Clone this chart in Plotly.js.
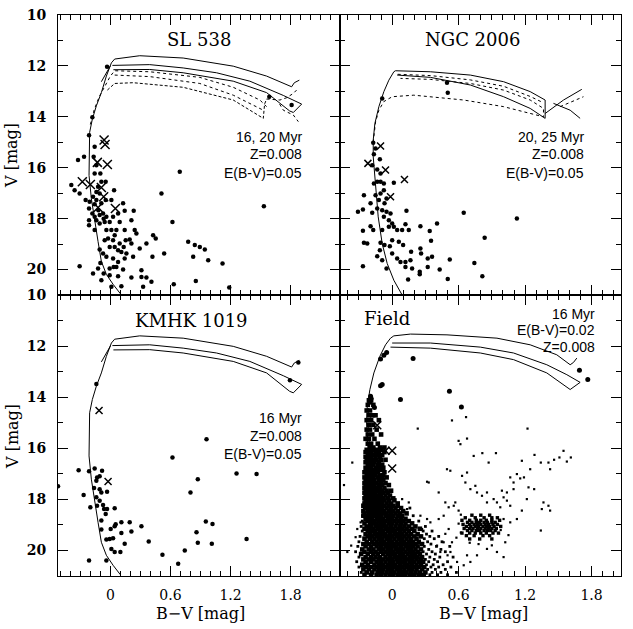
<!DOCTYPE html>
<html><head><meta charset="utf-8">
<script src="https://cdn.plot.ly/plotly-3.0.1.min.js"></script>
<style>html,body{margin:0;padding:0;background:#fff}#chart{width:633px;height:629px}</style>
</head><body><div id="chart"></div>
<script>
// ---------- isochrones ----------
// 16 Myr, Z=0.008, E(B-V)=0.05 (SL 538 & KMHK 1019, solid)
const iso16X = [0.1,0.027,-0.04,-0.09,-0.123,-0.157,-0.19,-0.213,-0.213,-0.207,-0.18,-0.14,-0.09,-0.04,0.01,0.043,0.293,0.727,1.227,1.56,1.81,1.837,1.887,null,
  0.02,0.393,0.727,1.06,1.393,1.727,1.91,1.827,1.79,1.56,1.227,0.727,0.393,0.03,null,
  -0.09,0.0];
const iso16Y = [20.95,20.58,20.19,19.68,18.9,18.12,17.21,16.3,15.26,14.61,14.09,13.57,13.05,12.4,11.88,11.73,11.6,11.69,12.01,12.4,12.82,12.66,12.56,null,
  11.98,11.95,12.08,12.27,12.6,13.16,13.5,13.83,13.77,13.05,12.6,12.27,12.14,12.15,null,
  12.62,12.0];
// 20 Myr (SL 538, dotted / dashed)
const iso20dotX = [-0.2,-0.16,-0.11,-0.05,0.0,0.043,0.393,0.893,1.227,1.493,1.56,null,
  0.043,0.393,0.893,1.227,1.527,null,
  1.56,1.693,1.76,1.827,1.877,null,
  1.69,1.727,1.827,1.877];
const iso20dotY = [14.3,13.7,13.2,12.75,12.4,12.19,12.23,12.45,12.84,13.34,13.6,null,
  12.36,12.42,12.69,13.15,13.74,null,
  13.3,13.34,13.25,13.08,12.88,null,
  13.5,13.74,13.93,14.19];
const iso20dashX = [-0.03,0.043,0.227,0.727,1.227,1.527,1.54,1.56];
const iso20dashY = [12.95,12.69,12.66,12.84,13.34,14.06,13.5,13.3];
// NGC 2006: 20 Myr solid, 25 Myr dotted
const ngcSolidX = [0.09,0.015,-0.045,-0.09,-0.126,-0.15,-0.171,-0.171,-0.156,-0.12,-0.075,-0.03,0.015,0.03,0.345,0.706,1.006,1.246,1.381,1.381,1.246,1.006,0.706,0.345,0.045,null,
  1.381,1.547,1.712,null,1.456,1.607,1.697];
const ngcSolidY = [21.0,20.42,19.76,18.98,17.93,16.75,15.57,14.91,14.26,13.6,13.01,12.56,12.23,12.19,12.23,12.36,12.62,13.01,13.34,14.06,13.67,13.21,12.75,12.45,12.36,null,
  13.87,13.34,12.92,null,13.47,13.74,14.06];
const ngcDotX = [-0.171,-0.15,-0.12,-0.075,0.0,0.195,0.646,1.006,1.366,1.366,1.246,1.006,0.706,0.345,0.075,null,
  0.05,0.345,0.706,1.006,1.246,1.366,null,1.517,1.727];
const ngcDotY = [15.0,14.2,13.74,13.4,13.21,13.15,13.34,13.6,14.0,13.67,13.34,12.95,12.69,12.53,12.49,null,
  12.33,12.38,12.55,12.8,13.2,13.45,null,13.6,13.21];
// Field: 16 Myr, E(B-V)=0.02
const isoFieldX = [0.09,0.015,-0.045,-0.105,-0.15,-0.189,-0.219,-0.231,-0.225,-0.201,-0.165,-0.111,-0.06,-0.015,0.015,0.165,0.495,0.946,1.246,1.486,1.607,1.637,1.667,null,
  0.0,0.345,0.796,1.096,1.396,1.577,1.697,1.607,1.396,1.096,0.796,0.345,-0.015];
const isoFieldY = [20.95,20.58,20.06,19.29,18.25,17.08,15.91,15.0,14.35,13.7,13.05,12.4,11.95,11.69,11.6,11.53,11.56,11.69,11.95,12.34,12.73,12.64,12.47,null,
  11.88,11.88,12.04,12.27,12.73,13.12,13.42,13.7,13.05,12.53,12.27,12.08,12.04];

// ---------- stars: [B-V, V] ----------
const sl538Dots = [[-0.033,12.03],[-0.18,14.02],[-0.213,14.72],[-0.157,15.18],[-0.167,15.57],[-0.14,15.9],[-0.157,16.23],[-0.1,16.23],[-0.323,15.7],[-0.263,15.57],[-0.39,16.68],[-0.357,16.88],[-0.307,17.01],[-0.247,17.27],[-0.207,17.34],[-0.173,17.14],[-0.14,16.95],[-0.09,16.55],[-0.047,16.55],[0.037,16.88],[-0.213,17.6],[-0.18,17.8],[-0.213,18.06],[-0.213,18.26],[-0.157,17.93],[-0.107,17.86],[-0.073,17.8],[-0.04,17.93],[0.01,17.27],[0.027,17.93],[0.077,17.8],[0.127,17.4],[0.143,17.69],[0.233,17.69],[-0.157,18.45],[-0.107,18.19],[-0.057,18.13],[-0.007,18.13],[0.01,18.45],[0.06,18.45],[0.093,18.13],[0.043,18.65],[-0.04,18.45],[-0.057,18.85],[-0.107,19.21],[-0.007,19.11],[0.043,19.11],[0.093,18.98],[0.11,19.31],[0.193,18.82],[0.21,18.06],[0.243,18.45],[0.26,18.58],[0.21,18.98],[0.16,19.37],[0.227,19.5],[0.293,19.17],[0.36,18.98],[0.143,19.57],[0.077,19.7],[0.027,19.57],[-0.04,19.5],[-0.1,19.74],[-0.007,19.96],[0.06,19.9],[0.127,20.0],[-0.067,20.16],[-0.173,20.16],[-0.007,20.22],[0.077,20.26],[0.21,20.31],[0.31,20.03],[0.31,20.29],[0.36,20.31],[0.41,20.48],[0.327,20.68],[0.11,20.66],[0.01,20.68],[-0.307,19.87],[0.427,18.65],[0.453,18.78],[0.42,19.5],[0.537,19.37],[0.51,17.01],[0.62,18.13],[0.693,16.16],[0.633,20.58],[0.777,18.91],[0.843,19.04],[0.893,19.11],[0.943,19.21],[0.827,19.5],[0.977,19.63],[1.12,19.76],[0.853,20.45],[1.187,20.71],[1.533,17.51],[1.587,13.21],[1.81,13.54],[-0.123,16.75],[-0.107,17.01],[-0.14,17.27],[-0.09,17.4],[-0.047,17.27],[-0.157,17.43],[-0.12,17.67],[-0.067,18.0],[-0.14,18.06],[-0.023,18.78],[0.027,18.85],[0.077,19.24],[-0.073,19.37],[0.143,18.45],[0.153,18.85],[0.133,19.11],[0.033,19.9],[-0.123,19.96],[-0.09,20.42]];
const sl538Cross = [[-0.063,14.91],[-0.053,15.09],[-0.13,15.79],[-0.03,15.87],[-0.28,16.55],[-0.2,16.66],[-0.09,16.78],[-0.067,17.14],[-0.123,17.56],[0.05,17.6]];

const ngcDots = [[-0.09,13.28],[0.495,12.66],[0.502,13.05],[-0.171,15.02],[-0.15,15.24],[-0.165,15.47],[-0.111,15.67],[-0.18,15.9],[-0.135,16.07],[-0.105,16.23],[-0.165,16.62],[-0.135,16.55],[-0.105,16.55],[-0.075,16.62],[0.015,16.59],[-0.255,17.08],[-0.15,17.08],[-0.105,17.01],[-0.075,16.88],[-0.051,17.21],[-0.12,17.27],[-0.069,17.4],[-0.309,17.73],[-0.264,17.64],[-0.195,17.4],[-0.18,17.77],[-0.135,17.6],[-0.09,17.67],[-0.051,17.73],[-0.015,17.8],[0.129,17.69],[-0.075,17.93],[-0.03,18.06],[0.0,18.19],[-0.264,18.48],[-0.195,18.3],[-0.171,18.45],[-0.09,18.45],[-0.03,18.32],[0.015,18.32],[0.045,18.45],[0.09,18.45],[0.12,18.22],[0.15,18.45],[0.255,18.3],[0.339,18.49],[0.405,18.19],[0.646,17.77],[1.126,17.99],[-0.255,18.95],[-0.225,18.98],[-0.105,18.95],[-0.069,19.04],[-0.021,19.08],[0.0,18.85],[0.06,18.91],[0.099,19.04],[0.351,18.87],[0.835,18.75],[-0.111,19.24],[0.255,19.17],[-0.135,19.48],[-0.09,19.63],[0.0,19.37],[0.045,19.57],[0.075,19.7],[0.12,19.7],[0.165,19.63],[0.171,19.3],[0.261,19.37],[0.321,19.57],[0.36,19.5],[0.52,19.61],[0.742,19.74],[-0.264,19.87],[-0.051,19.96],[0.12,19.9],[0.18,19.96],[0.249,20.09],[0.321,19.9],[0.429,20.0],[0.144,20.39],[0.249,20.18],[0.502,20.37],[0.814,20.26]];
const ngcCross = [[-0.105,15.15],[-0.219,15.83],[-0.06,16.09],[0.111,16.46],[-0.015,17.14]];

const kmhkDots = [[-0.14,13.48],[-0.523,17.49],[-0.317,16.86],[-0.213,16.9],[-0.157,16.79],[-0.133,17.14],[-0.107,17.1],[-0.083,16.88],[-0.14,17.27],[-0.163,17.56],[-0.107,17.6],[-0.09,17.73],[-0.033,17.7],[-0.267,17.83],[-0.14,17.92],[-0.107,18.05],[-0.073,18.22],[-0.2,18.31],[-0.133,18.25],[-0.063,18.38],[-0.033,18.38],[0.043,18.35],[-0.047,18.57],[-0.09,18.83],[-0.09,19.18],[-0.04,19.57],[-0.007,19.55],[0.027,19.52],[0.003,19.16],[0.043,19.05],[0.053,18.97],[0.11,18.9],[0.11,19.32],[0.193,18.9],[0.21,19.26],[0.143,19.74],[0.31,19.05],[0.383,19.65],[0.01,19.94],[0.043,20.06],[0.1,20.06],[-0.213,20.39],[-0.04,20.39],[0.52,20.17],[0.677,20.52],[0.743,20.0],[0.62,16.36],[0.8,17.73],[0.873,17.21],[0.96,15.65],[0.86,19.29],[0.873,19.7],[0.953,18.87],[1.02,18.96],[1.013,19.74],[1.26,16.99],[1.36,19.55],[1.46,17.01],[1.793,13.34],[1.877,12.64]];
const kmhkCross = [[-0.113,14.52],[-0.023,17.3]];

// Field: dense sequences, rows of V with the B-V of the stars read along each row
const fieldRowV = [14.12,14.3,14.52,14.71,14.9,15.08,15.27,15.46,15.63,15.82,15.97,16.06,16.15,16.26,16.34,16.45,16.55,16.64,16.76,16.85,16.94,17.06,17.14,17.25,17.36,17.44,17.55,17.66,17.74,17.85,17.96,18.04,18.16,18.25,18.34,18.46,18.55,18.64,18.76,18.85,18.94,19.06,19.15,19.24,19.36,19.45,19.54,19.66,19.75,19.84,19.96,20.05,20.14,20.26,20.35,20.44,20.56,20.65,20.74,20.86,20.95];
const fieldRowBV = [
 [-0.21,-0.19],[-0.22,-0.17],[-0.2,-0.23],[-0.18,-0.21,-0.15],[-0.23,-0.19,-0.12],[-0.21,-0.17],[-0.23,-0.2,-0.14],[-0.22,-0.18,-0.1],[-0.21,-0.24,-0.16],[-0.19,-0.13,-0.22],[-0.2,-0.17,-0.07,-0.11],
 [-0.23,-0.2,-0.17,-0.14,-0.1],[-0.24,-0.21,-0.19,-0.15,-0.12,-0.07],[-0.22,-0.18,-0.16,-0.13,-0.09],[-0.24,-0.21,-0.19,-0.15,-0.11],[-0.23,-0.2,-0.17,-0.14,-0.1,-0.06],[-0.24,-0.21,-0.18,-0.16,-0.12],[-0.22,-0.2,-0.17,-0.13,-0.09],[-0.24,-0.21,-0.19,-0.15,-0.12,-0.08],[-0.23,-0.2,-0.17,-0.14,-0.1],[-0.25,-0.22,-0.19,-0.16,-0.13,-0.07],[-0.23,-0.21,-0.18,-0.15,-0.11,-0.08],[-0.25,-0.22,-0.2,-0.17,-0.13,-0.09,-0.05],[-0.24,-0.21,-0.18,-0.16,-0.12,-0.08],[-0.25,-0.23,-0.2,-0.17,-0.14,-0.1,-0.06],[-0.24,-0.21,-0.19,-0.16,-0.12,-0.09,-0.03],[-0.25,-0.22,-0.2,-0.17,-0.14,-0.11,-0.07],[-0.24,-0.21,-0.18,-0.16,-0.13,-0.09,-0.05,-0.01],[-0.25,-0.23,-0.2,-0.17,-0.15,-0.11,-0.08,-0.04],[-0.24,-0.21,-0.19,-0.16,-0.13,-0.1,-0.06,-0.02],[-0.25,-0.22,-0.2,-0.17,-0.14,-0.12,-0.08,-0.04,0.01],[-0.24,-0.21,-0.18,-0.16,-0.13,-0.1,-0.07,-0.03,0.02],[-0.25,-0.23,-0.2,-0.17,-0.15,-0.12,-0.09,-0.05,-0.01,0.05],
 [-0.26,-0.22,-0.19,-0.16,-0.13,-0.1,-0.07,-0.03,0.01,0.05],[-0.24,-0.21,-0.18,-0.15,-0.12,-0.09,-0.05,-0.01,0.03,0.08],[-0.26,-0.22,-0.19,-0.16,-0.13,-0.1,-0.07,-0.03,0.01,0.05,0.1],[-0.25,-0.21,-0.18,-0.15,-0.12,-0.08,-0.05,-0.01,0.03,0.07,0.13],[-0.26,-0.23,-0.19,-0.16,-0.13,-0.1,-0.06,-0.03,0.01,0.05,0.09],[-0.24,-0.21,-0.18,-0.14,-0.11,-0.08,-0.04,0.0,0.04,0.08,0.12],[-0.22,-0.19,-0.16,-0.12,-0.09,-0.06,-0.02,0.02,0.06,0.1,0.15],[-0.25,-0.2,-0.17,-0.14,-0.1,-0.07,-0.03,0.0,0.04,0.08,0.12,0.18],[-0.23,-0.19,-0.15,-0.12,-0.08,-0.05,-0.01,0.03,0.07,0.11,0.15,0.21],[-0.25,-0.21,-0.17,-0.13,-0.1,-0.06,-0.03,0.01,0.05,0.09,0.13,0.18,0.25],[-0.22,-0.18,-0.15,-0.11,-0.08,-0.04,0.0,0.03,0.07,0.11,0.15,0.2],[-0.24,-0.2,-0.16,-0.13,-0.09,-0.06,-0.02,0.02,0.05,0.09,0.13,0.17,0.23],[-0.22,-0.18,-0.14,-0.11,-0.07,-0.04,0.0,0.04,0.07,0.11,0.15,0.2,0.26],[-0.25,-0.2,-0.16,-0.12,-0.09,-0.05,-0.02,0.02,0.06,0.09,0.13,0.17,0.22],[-0.23,-0.18,-0.14,-0.1,-0.07,-0.03,0.0,0.04,0.08,0.11,0.15,0.19,0.24],[-0.26,-0.21,-0.16,-0.12,-0.08,-0.05,-0.01,0.02,0.06,0.1,0.13,0.17,0.21,0.27],[-0.24,-0.19,-0.14,-0.1,-0.06,-0.03,0.01,0.04,0.08,0.12,0.15,0.19,0.23],[-0.27,-0.21,-0.17,-0.12,-0.08,-0.04,-0.01,0.03,0.06,0.1,0.14,0.17,0.21,0.26],[-0.25,-0.19,-0.15,-0.1,-0.06,-0.02,0.01,0.05,0.08,0.12,0.16,0.19,0.23],[-0.28,-0.22,-0.17,-0.13,-0.08,-0.04,0.0,0.03,0.07,0.1,0.14,0.18,0.21,0.25],[-0.24,-0.19,-0.15,-0.11,-0.06,-0.02,0.02,0.05,0.09,0.12,0.16,0.2,0.23,0.27],[-0.26,-0.21,-0.17,-0.12,-0.08,-0.04,0.0,0.04,0.07,0.11,0.14,0.18,0.22,0.26],[-0.24,-0.19,-0.14,-0.1,-0.06,-0.02,0.01,0.05,0.09,0.12,0.16,0.2,0.24,0.28],[-0.27,-0.22,-0.16,-0.12,-0.08,-0.04,0.0,0.03,0.07,0.11,0.14,0.18,0.22,0.26],[-0.24,-0.19,-0.14,-0.1,-0.06,-0.02,0.02,0.05,0.09,0.13,0.16,0.2,0.24,0.29],[-0.26,-0.21,-0.16,-0.12,-0.08,-0.04,0.0,0.04,0.07,0.11,0.15,0.18,0.22,0.27],[-0.23,-0.18,-0.13,-0.09,-0.05,-0.01,0.02,0.06,0.1,0.13,0.17,0.21,0.25,0.3],[-0.25,-0.19,-0.14,-0.1,-0.06,-0.02,0.01,0.05,0.08,0.12,0.16,0.2,0.24,0.28]];
// red clump rows
const clumpRowV = [18.62,18.72,18.82,18.9,18.98,19.06,19.14,19.22,19.32,19.42,19.55];
const clumpRowBV = [[0.72,0.8,0.88],[0.66,0.75,0.83,0.9,0.95],[0.63,0.7,0.76,0.8,0.85,0.9,0.97],[0.68,0.72,0.76,0.79,0.83,0.86,0.9,0.93],[0.64,0.7,0.74,0.77,0.8,0.84,0.87,0.91,0.95],[0.67,0.71,0.75,0.78,0.82,0.85,0.88,0.92,0.98],[0.65,0.7,0.73,0.77,0.8,0.84,0.87,0.9,0.94],[0.68,0.72,0.76,0.79,0.83,0.86,0.89,0.93],[0.63,0.7,0.75,0.8,0.85,0.91,0.96],[0.67,0.74,0.82,0.88],[0.7,0.79,0.9]];
// looser stars around the lower main sequence
const fieldOuter = [[0.16,18.34],[0.19,18.64],[-0.27,18.85],[0.24,18.85],[-0.28,19.06],[0.3,19.06],[-0.27,19.24],[0.28,19.24],[0.36,19.24],[0.31,19.36],[-0.29,19.45],[0.34,19.45],[0.42,19.45],[0.29,19.54],[0.38,19.54],[-0.3,19.66],[0.32,19.66],[0.45,19.66],[0.35,19.75],[-0.31,19.84],[0.29,19.84],[0.4,19.84],[0.52,19.84],[0.33,19.96],[0.44,19.96],[-0.33,20.05],[0.28,20.05],[0.36,20.05],[0.48,20.05],[0.31,20.14],[0.39,20.14],[-0.3,20.26],[0.34,20.26],[0.43,20.26],[0.55,20.26],[0.3,20.35],[0.38,20.35],[-0.32,20.44],[0.33,20.44],[0.41,20.44],[0.5,20.44],[0.31,20.56],[0.37,20.56],[0.46,20.56],[-0.3,20.65],[0.35,20.65],[0.42,20.65],[0.53,20.65],[0.32,20.74],[0.39,20.74],[0.48,20.74],[-0.28,20.86],[0.36,20.86],[0.44,20.86],[0.58,20.86],[0.34,20.95],[0.41,20.95],[0.5,20.95]];
// scattered field stars
const fieldSparse = [[0.231,15.23],[0.54,14.91],[0.667,14.78],[0.616,15.84],[0.6,15.71],[0.676,15.62],[0.814,16.19],[0.937,16.19],[0.871,16.56],[0.736,16.3],[1.222,15.23],[1.285,16.26],[1.342,16.56],[1.411,16.56],[1.462,16.45],[1.547,16.1],[1.577,16.52],[1.613,16.36],[1.51,16.36],[1.426,16.82],[1.171,16.49],[1.126,17.01],[1.156,17.18],[1.19,17.14],[1.246,16.82],[1.066,17.14],[1.096,17.34],[1.231,17.53],[1.282,17.6],[1.366,18.12],[1.411,18.25],[1.426,18.44],[1.351,18.38],[1.342,19.22],[0.991,17.66],[1.036,17.73],[1.006,17.92],[0.946,18.12],[0.976,18.31],[0.916,17.99],[0.856,17.73],[0.751,17.47],[0.706,17.6],[0.661,17.34],[0.631,17.08],[0.676,16.95],[0.495,16.82],[0.525,16.88],[0.315,17.31],[0.33,17.34],[0.42,17.73],[0.48,18.12],[0.51,18.31],[0.556,18.25],[0.6,18.44],[0.57,18.12],[0.766,17.73],[0.811,17.86],[0.856,18.12],[1.036,18.05],[1.066,18.25],[1.096,17.6],[1.216,17.99],[1.171,18.44],[1.126,18.77],[1.066,18.9],[1.006,18.77],[1.021,19.68],[1.006,20.26],[0.946,20.06],[0.856,19.94],[0.766,20.19],[0.676,20.19],[0.706,20.45],[0.646,20.58],[0.586,20.45],[0.526,20.06],[0.5,20.19],[0.54,19.68],[0.48,19.35],[0.51,19.16],[0.465,19.68],[0.405,19.81],[0.435,20.06],[0.465,18.64],[0.42,18.77],[0.345,18.9],[0.315,18.77],[0.255,18.64],[0.27,19.16],[0.135,18.38],[0.15,18.12],[0.09,17.99],[-0.36,16.56],[-0.435,17.44],[-0.405,20.06],[-0.37,19.81],[-0.33,19.48],[-0.315,19.16],[-0.285,18.9],[-0.27,18.64],[-0.255,18.38],[0.62,18.6],[0.6,18.95],[0.62,19.3],[0.58,19.5],[0.7,19.7],[0.78,19.75],[0.9,19.8],[1.05,19.4],[0.98,19.2]];
const fieldBig = [[-0.105,12.51],[-0.075,12.36],[-0.05,12.25],[0.189,12.49],[-0.105,13.55],[-0.09,13.5],[-0.195,13.96],[-0.19,14.05],[0.075,14.09],[0.517,13.77],[0.625,14.38],[1.691,12.95],[1.766,13.31],[-0.2,14.2],[-0.16,14.4]];
const fieldCross = [[-0.135,15.1],[-0.06,16.1],[0.0,16.1],[0.0,16.79]];

// ---------- build ----------
const K = 'black';
function line(x, y, xa, ya, dash) {
  return {type:'scatter', mode:'lines', x:x, y:y, xaxis:xa, yaxis:ya, connectgaps:false,
    line:{color:K, width:1, dash:dash||'solid'}, hoverinfo:'skip', showlegend:false};
}
function pts(p, xa, ya, sym, size, lw) {
  return {type:'scatter', mode:'markers', x:p.map(a=>a[0]), y:p.map(a=>a[1]), xaxis:xa, yaxis:ya,
    marker:{symbol:sym, size:size, color:K, line:{color:K, width:lw||0}}, hoverinfo:'skip', showlegend:false};
}
const fieldDense = [], clumpPts = [];
fieldRowV.forEach((v,i)=>fieldRowBV[i].forEach(b=>fieldDense.push([b,v])));
clumpRowV.forEach((v,i)=>clumpRowBV[i].forEach(b=>clumpPts.push([b,v])));

const data = [
  line(iso16X, iso16Y, 'x', 'y'),
  line(iso20dotX, iso20dotY, 'x', 'y', 'dot'),
  line(iso20dashX, iso20dashY, 'x', 'y', '3px,2px'),
  pts(sl538Dots, 'x', 'y', 'circle', 4.5),
  pts(sl538Cross, 'x', 'y', 'x-thin-open', 9, 1.5),
  line(ngcSolidX, ngcSolidY, 'x2', 'y2'),
  line(ngcDotX, ngcDotY, 'x2', 'y2', 'dot'),
  pts(ngcDots, 'x2', 'y2', 'circle', 4.5),
  pts(ngcCross, 'x2', 'y2', 'x-thin-open', 7, 1.5),
  line(iso16X, iso16Y, 'x3', 'y3'),
  pts(kmhkDots, 'x3', 'y3', 'circle', 4.5),
  pts(kmhkCross, 'x3', 'y3', 'x-thin-open', 7, 1.5),
  line(isoFieldX, isoFieldY, 'x4', 'y4'),
  pts(fieldDense, 'x4', 'y4', 'square', 4.6),
  pts(clumpPts, 'x4', 'y4', 'square', 3.4),
  pts(fieldOuter, 'x4', 'y4', 'square', 2.8),
  pts(fieldSparse, 'x4', 'y4', 'square', 2.2),
  pts(fieldBig, 'x4', 'y4', 'circle', 5),
  pts(fieldCross, 'x4', 'y4', 'x-thin-open', 8, 1.5)
];

const W = 633, H = 629;
const xL = [58/W, 340/W], xR = [340/W, 621/W];
const yT = [1-295/H, 1-15/H], yB = [1-576/H, 1-295/H];
function xax(dom, range, anchor, labels) {
  return {domain:dom, range:range, anchor:anchor, showline:true, linecolor:K, linewidth:1, mirror:'allticks',
    ticks:'inside', ticklen:10, tickwidth:1, tickcolor:K, tick0:0, dtick:0.6, showticklabels:labels,
    tickfont:{family:'DejaVu Serif', size:14, color:K}, ticklabelstandoff:6,
    minor:{ticks:'inside', ticklen:5, tick0:0, dtick:0.1, tickcolor:K, tickwidth:1, showgrid:false},
    showgrid:false, zeroline:false, fixedrange:true};
}
function yax(dom, anchor, labels) {
  return {domain:dom, range:[21,10], anchor:anchor, showline:true, linecolor:K, linewidth:1, mirror:'allticks',
    ticks:'inside', ticklen:10, tickwidth:1, tickcolor:K, tick0:10, dtick:2, showticklabels:labels,
    tickfont:{family:'DejaVu Serif', size:14, color:K, weight:'bold'}, ticklabelstandoff:8,
    minor:{ticks:'inside', ticklen:5, tick0:10, dtick:1, tickcolor:K, tickwidth:1, showgrid:false},
    showgrid:false, zeroline:false, fixedrange:true};
}
const rangeL = [-0.523, 2.293], rangeR = [-0.471, 2.066];
const serif = {family:'DejaVu Serif', size:18, color:K};
const sans = {family:'Liberation Sans, Arial, sans-serif', size:14, color:K};
const axT = {family:'DejaVu Serif', size:16, color:K};
function ann(text, x, y, xr, yr, font, xanchor) {
  return {text:text, x:x, y:y, xref:xr, yref:yr, showarrow:false, font:font, xanchor:xanchor||'center', yanchor:'middle'};
}
const annotations = [
  ann('SL 538', 0.883, 10.96, 'x', 'y', serif),
  ann('16, 20 Myr', 1.933, 14.78, 'x', 'y', sans, 'right'),
  ann('Z=0.008', 1.933, 15.48, 'x', 'y', sans, 'right'),
  ann('E(B-V)=0.05', 1.933, 16.19, 'x', 'y', sans, 'right'),
  ann('NGC 2006', 0.721, 10.96, 'x2', 'y2', serif),
  ann('20, 25 Myr', 1.75, 14.78, 'x2', 'y2', sans, 'right'),
  ann('Z=0.008', 1.75, 15.48, 'x2', 'y2', sans, 'right'),
  ann('E(B-V)=0.05', 1.75, 16.19, 'x2', 'y2', sans, 'right'),
  ann('KMHK 1019', 0.81, 11.0, 'x3', 'y3', serif),
  ann('16 Myr', 1.933, 14.8, 'x3', 'y3', sans, 'right'),
  ann('Z=0.008', 1.933, 15.52, 'x3', 'y3', sans, 'right'),
  ann('E(B-V)=0.05', 1.933, 16.23, 'x3', 'y3', sans, 'right'),
  ann('Field', -0.045, 10.91, 'x4', 'y4', serif),
  ann('16 Myr', 1.847, 10.74, 'x4', 'y4', sans, 'right'),
  ann('E(B-V)=0.02', 1.847, 11.36, 'x4', 'y4', sans, 'right'),
  ann('Z=0.008', 1.847, 12.04, 'x4', 'y4', sans, 'right'),
  Object.assign(ann('V [mag]', 12/W, 1-156/H, 'paper', 'paper', axT), {textangle:-90}),
  Object.assign(ann('V [mag]', 12/W, 1-437/H, 'paper', 'paper', axT), {textangle:-90}),
  ann('B\u2212V [mag]', 200/W, 1-613/H, 'paper', 'paper', axT),
  ann('B\u2212V [mag]', 483/W, 1-613/H, 'paper', 'paper', axT)
];

const layout = {
  width:W, height:H, margin:{l:0, r:0, t:0, b:0}, paper_bgcolor:'white', plot_bgcolor:'white',
  showlegend:false,
  xaxis: xax(xL, rangeL, 'y', false),  yaxis: yax(yT, 'x', true),
  xaxis2: xax(xR, rangeR, 'y2', false), yaxis2: yax(yT, 'x2', false),
  xaxis3: xax(xL, rangeL, 'y3', true),  yaxis3: yax(yB, 'x3', true),
  xaxis4: xax(xR, rangeR, 'y4', true),  yaxis4: yax(yB, 'x4', false),
  annotations: annotations
};
Plotly.newPlot('chart', data, layout, {staticPlot:true, displayModeBar:false});
</script></body></html>
